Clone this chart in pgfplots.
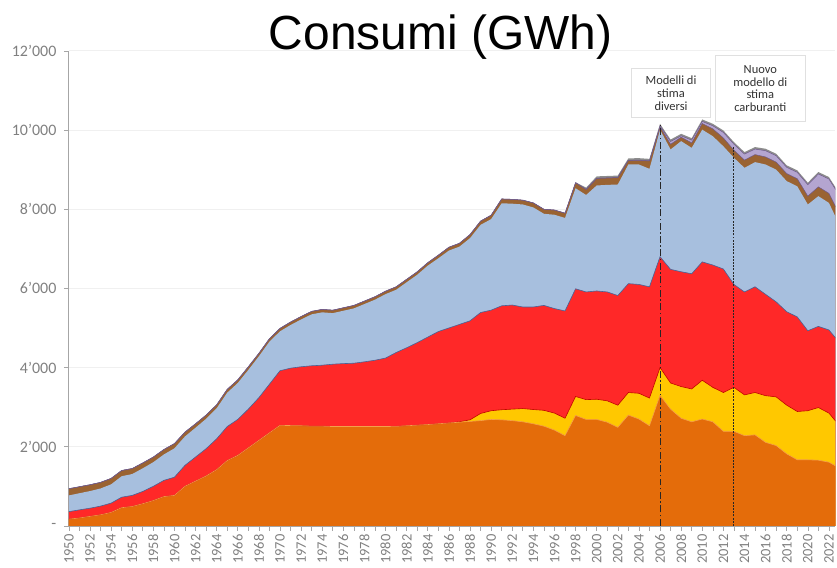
\documentclass[border=0pt]{standalone}
\usepackage{fontspec}
\setmainfont{Carlito}
\newfontfamily\titlefont{Liberation Sans}
\usepackage{pgfplots}
\usepackage{pgfplotstable}
\pgfplotsset{compat=1.18}

\definecolor{cOr}{HTML}{E46C0A}
\definecolor{cOrE}{HTML}{F4A04A}
\definecolor{cYe}{HTML}{FFC800}
\definecolor{cRe}{HTML}{FF2828}
\definecolor{cReE}{HTML}{C00000}
\definecolor{cBl}{HTML}{A7BFDE}
\definecolor{cBlE}{HTML}{44659A}
\definecolor{cBr}{HTML}{9A6332}
\definecolor{cPu}{HTML}{B4A5D0}
\definecolor{cPuE}{HTML}{6F5A8A}
\definecolor{cGr}{HTML}{8C8C8C}

\pgfplotstableread{
year O Y R B Bn P G
1950 170 170 360 770 940 940 940
1951 200 200 405 825 990 990 990
1952 240 240 447 880 1040 1040 1040
1953 280 280 500 945 1100 1100 1100
1954 340 340 575 1050 1200 1200 1200
1955 460 460 725 1255 1400 1400 1400
1956 490 490 770 1310 1450 1450 1450
1957 560 560 870 1455 1590 1590 1590
1958 640 640 1000 1610 1740 1740 1740
1959 740 740 1150 1805 1930 1930 1930
1960 770 770 1230 1960 2080 2080 2080
1961 1000 1000 1530 2260 2370 2370 2370
1962 1130 1130 1740 2480 2580 2580 2580
1963 1260 1260 1950 2705 2800 2800 2800
1964 1420 1420 2200 2970 3060 3060 3060
1965 1650 1650 2510 3365 3450 3450 3450
1966 1780 1780 2690 3610 3690 3690 3690
1967 1970 1970 2950 3940 4020 4020 4020
1968 2160 2160 3240 4285 4360 4360 4360
1969 2350 2350 3580 4655 4730 4730 4730
1970 2540 2540 3920 4915 4990 4990 4990
1971 2535 2535 3985 5075 5150 5150 5150
1972 2530 2530 4020 5215 5290 5290 5290
1973 2520 2520 4045 5345 5420 5420 5420
1974 2520 2520 4060 5395 5470 5470 5470
1975 2510 2510 4085 5375 5450 5450 5450
1976 2510 2510 4100 5435 5510 5510 5510
1977 2510 2510 4110 5495 5570 5570 5570
1978 2510 2510 4145 5605 5680 5680 5680
1979 2510 2510 4185 5715 5790 5790 5790
1980 2510 2510 4240 5855 5930 5930 5930
1981 2515 2515 4380 5965 6040 6040 6040
1982 2530 2530 4500 6155 6230 6230 6230
1983 2545 2545 4630 6345 6420 6420 6420
1984 2560 2560 4770 6575 6650 6650 6650
1985 2580 2580 4910 6760 6840 6840 6840
1986 2600 2600 5000 6955 7040 7040 7040
1987 2620 2630 5090 7055 7140 7140 7140
1988 2640 2680 5180 7270 7360 7360 7360
1989 2660 2840 5390 7605 7700 7700 7700
1990 2690 2910 5450 7750 7850 7850 7850
1991 2680 2935 5560 8150 8260 8260 8260
1992 2660 2950 5580 8140 8250 8250 8250
1993 2630 2965 5530 8120 8230 8230 8230
1994 2580 2940 5530 8045 8160 8160 8160
1995 2520 2920 5570 7885 8000 8000 8000
1996 2420 2850 5490 7860 7980 7980 7980
1997 2280 2720 5430 7780 7900 7900 7900
1998 2790 3270 5990 8530 8670 8670 8680
1999 2690 3190 5910 8360 8500 8500 8545
2000 2690 3200 5935 8600 8780 8780 8830
2001 2620 3160 5910 8615 8790 8790 8840
2002 2490 3050 5820 8625 8800 8800 8850
2003 2800 3370 6120 9130 9235 9235 9285
2004 2700 3350 6100 9130 9235 9240 9290
2005 2530 3230 6040 9020 9220 9225 9272
2006 3300 4000 6800 10010 10080 10105 10155
2007 2950 3610 6480 9510 9640 9710 9760
2008 2720 3520 6420 9720 9820 9855 9905
2009 2630 3460 6370 9550 9675 9745 9795
2010 2700 3680 6670 10010 10165 10218 10268
2011 2630 3500 6590 9845 10030 10108 10158
2012 2390 3370 6490 9590 9800 9940 9990
2013 2390 3500 6100 9300 9490 9645 9695
2014 2280 3310 5910 9045 9240 9393 9443
2015 2300 3370 6040 9190 9380 9520 9570
2016 2110 3290 5850 9130 9320 9478 9528
2017 2030 3260 5660 9000 9190 9352 9402
2018 1820 3050 5410 8710 8900 9058 9108
2019 1670 2890 5280 8580 8770 8932 8982
2020 1670 2910 4930 8120 8330 8620 8670
2021 1660 2990 5040 8330 8565 8890 8940
2022 1610 2850 4950 8160 8400 8763 8813
2023 1460 2530 4630 7600 7865 8343 8393
}\data

\begin{document}
\begin{tikzpicture}
\begin{axis}[
  name=ax,
  scale only axis, width=768pt, height=476pt,
  xmin=1950, xmax=2022.6, ymin=0, ymax=12000,
  scaled y ticks=false, scaled x ticks=false,
  axis x line*=bottom, axis y line*=left,
  axis line style={draw=black!35, line width=0.8pt},
  xtick={1950,1952,...,2022},
  xticklabels={1950,1952,1954,1956,1958,1960,1962,1964,1966,1968,1970,1972,1974,1976,1978,1980,1982,1984,1986,1988,1990,1992,1994,1996,1998,2000,2002,2004,2006,2008,2010,2012,2014,2016,2018,2020,2022},
  minor xtick={1951,1953,...,2021},
  ytick={0,2000,4000,6000,8000,10000,12000},
  yticklabels={{-\hspace{11pt}},2’000,4’000,6’000,8’000,10’000,12’000},
  tick align=outside,
  major tick length=5pt, minor tick length=5pt,
  tick style={draw=black!35, line width=0.6pt},
  ymajorgrids, major grid style={draw=black!6, line width=0.8pt},
  xticklabel style={rotate=90, anchor=east, font=\fontsize{14.5}{14.5}\selectfont, text=black!50},
  yticklabel style={font=\fontsize{16}{16}\selectfont, text=black!50, xshift=-4pt},
  clip=true,
]
\addplot[fill=cGr, draw=none] table[x=year,y=G]{\data} \closedcycle;
\addplot[fill=cPu, draw=none] table[x=year,y=P]{\data} \closedcycle;
\addplot[fill=cBr, draw=none] table[x=year,y=Bn]{\data} \closedcycle;
\addplot[fill=cBl, draw=none] table[x=year,y=B]{\data} \closedcycle;
\addplot[fill=cRe, draw=none] table[x=year,y=R]{\data} \closedcycle;
\addplot[fill=cYe, draw=none] table[x=year,y=Y]{\data} \closedcycle;
\addplot[fill=cOr, draw=none] table[x=year,y=O]{\data} \closedcycle;
\addplot[cPuE, line width=0.5pt] table[x=year,y=P]{\data};
\addplot[cPuE, line width=0.5pt] table[x=year,y=Bn]{\data};
\addplot[cBlE, line width=0.6pt] table[x=year,y=R]{\data};
\addplot[cReE, line width=0.6pt] table[x=year,y=Y]{\data};
\addplot[cOrE, line width=0.6pt] table[x=year,y=O]{\data};
\addplot[black!85, line width=1pt, dash pattern=on 7pt off 2.5pt on 1.5pt off 2.5pt] coordinates {(2006,0) (2006,10138)};
\addplot[black!85, line width=1pt, dash pattern=on 2pt off 1.2pt] coordinates {(2013,0) (2013,9560)};
\coordinate (ll) at (rel axis cs:0,0);
\coordinate (ur) at (rel axis cs:1,1);
\coordinate (tt) at (rel axis cs:0.485,1);
\coordinate (b1) at (axis cs:2007.04,10933);
\coordinate (b2) at (axis cs:2015.5,11046);
\end{axis}
\path ([shift={(-69pt,-35pt)}]ll) rectangle ([shift={(0pt,51pt)}]ur);
\node[font=\titlefont\fontsize{48}{48}\selectfont, anchor=base, inner sep=0pt] at ([yshift=1pt]tt) {Consumi (GWh)};
\node[draw=black!12, fill=white, line width=0.5pt, minimum width=79pt, minimum height=49pt, inner sep=0pt, align=center, font=\fontsize{12.5}{12.7}\selectfont, text=black!80] at (b1) {Modelli di\\stima\\diversi};
\node[draw=black!12, fill=white, line width=0.5pt, minimum width=90pt, minimum height=66pt, inner sep=0pt, align=center, font=\fontsize{12.5}{12.7}\selectfont, text=black!80] at (b2) {Nuovo\\modello di\\stima\\carburanti};
\end{tikzpicture}
\end{document}
